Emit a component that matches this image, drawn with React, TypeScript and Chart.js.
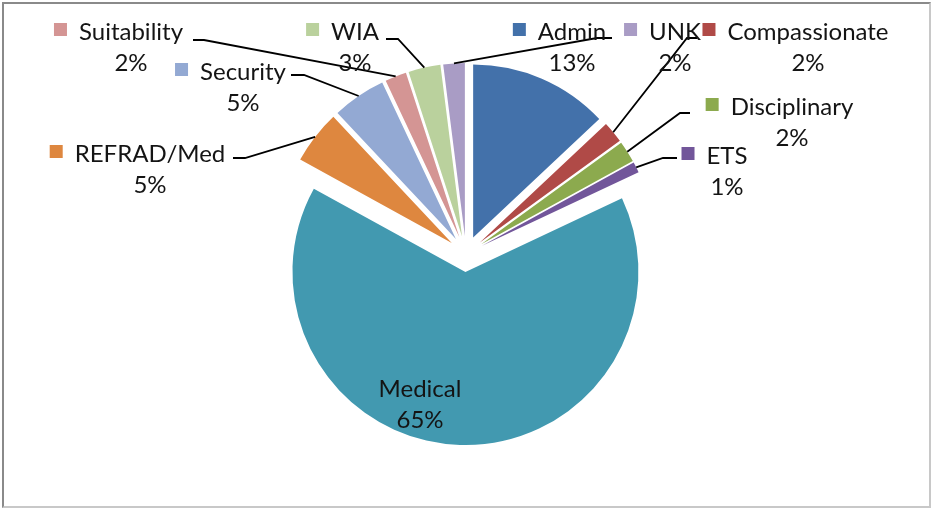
import React, { useEffect, useRef } from "react";
import { Chart, registerables } from "chart.js";

Chart.register(...registerables);

// ---- data ----
const CATEGORIES = ["Admin", "Compassionate", "Disciplinary", "ETS", "Medical", "REFRAD/Med", "Security", "Suitability", "WIA", "UNK"];
const SHARES = [13, 2, 2, 1, 65, 5, 5, 2, 3, 2];
const PCT_LABELS = ["13%", "2%", "2%", "1%", "65%", "5%", "5%", "2%", "3%", "2%"];

// ---- styles / layout (not data) ----
const COLORS = ["#4371AA", "#B04A47", "#8CAA4E", "#72569A", "#4299B0", "#DE873F", "#93A9D3", "#D49594", "#BAD19D", "#A99CC5"];
const EXPLODE = 18;
const RADIUS = 173;
const FONT = "24px Lato";
const LINE_GAP = 31;
type LabelLayout = { cx: number; y: number; key: boolean; elbow?: [number, number]; end?: number };
const LABEL_LAYOUT: LabelLayout[] = [
  { cx: 572, y: 31, key: true },
  { cx: 808, y: 31, key: true, elbow: [687, 38], end: 697 },
  { cx: 792, y: 106, key: true, elbow: [680, 113], end: 690 },
  { cx: 727, y: 155, key: true, elbow: [663, 158], end: 677 },
  { cx: 420, y: 388, key: false },
  { cx: 150, y: 153, key: true, elbow: [245, 158], end: 233 },
  { cx: 243, y: 71, key: true, elbow: [304, 75], end: 291 },
  { cx: 131, y: 31, key: true, elbow: [204, 40], end: 193 },
  { cx: 355, y: 31, key: true, elbow: [398, 39], end: 386 },
  { cx: 675, y: 31, key: true, elbow: [597, 38], end: 612 },
];

const explodePlugin = {
  id: "explodeLabels",
  beforeDatasetsDraw(chart: any) {
    const meta = chart.getDatasetMeta(0);
    const ca = chart.chartArea;
    const cx = (ca.left + ca.right) / 2;
    const cy = (ca.top + ca.bottom) / 2;
    meta.data.forEach((arc: any) => {
      const mid = (arc.startAngle + arc.endAngle) / 2;
      arc.x = cx + Math.cos(mid) * EXPLODE;
      arc.y = cy + Math.sin(mid) * EXPLODE;
    });
  },
  afterDatasetsDraw(chart: any) {
    const ctx: CanvasRenderingContext2D = chart.ctx;
    const meta = chart.getDatasetMeta(0);
    ctx.save();
    // leader lines
    ctx.strokeStyle = "#000";
    ctx.lineWidth = 1.8;
    meta.data.forEach((arc: any, i: number) => {
      const lay = LABEL_LAYOUT[i];
      if (!lay.elbow) return;
      const mid = (arc.startAngle + arc.endAngle) / 2;
      const px = arc.x + Math.cos(mid) * arc.outerRadius;
      const py = arc.y + Math.sin(mid) * arc.outerRadius;
      ctx.beginPath();
      ctx.moveTo(px, py);
      ctx.lineTo(lay.elbow[0], lay.elbow[1]);
      ctx.lineTo(lay.end as number, lay.elbow[1]);
      ctx.stroke();
    });
    // labels
    ctx.font = FONT;
    ctx.textBaseline = "middle";
    ctx.textAlign = "center";
    meta.data.forEach((arc: any, i: number) => {
      const lay = LABEL_LAYOUT[i];
      const name = CATEGORIES[i];
      const w = ctx.measureText(name).width;
      ctx.fillStyle = "#141414";
      ctx.fillText(name, lay.cx, lay.y + 1);
      ctx.fillText(PCT_LABELS[i], lay.cx, lay.y + LINE_GAP + 1);
      if (lay.key) {
        const left = lay.cx - w / 2 - 12 - 13;
        ctx.fillStyle = COLORS[i];
        ctx.fillRect(left, lay.y - 8, 13, 13);
      }
    });
    ctx.restore();
  },
};

export default function App() {
  const ref = useRef<HTMLCanvasElement>(null);
  useEffect(() => {
    if (!ref.current) return;
    const chart = new Chart(ref.current, {
      type: "pie",
      data: {
        labels: CATEGORIES,
        datasets: [
          {
            data: SHARES,
            backgroundColor: COLORS,
            borderWidth: 0,
            radius: RADIUS,
          } as any,
        ],
      },
      options: {
        animation: false,
        responsive: false,
        devicePixelRatio: 1,
        radius: RADIUS,
        layout: { padding: { left: 1, right: 0, top: 0, bottom: 0 } },
        plugins: { legend: { display: false }, tooltip: { enabled: false } },
        events: [],
      } as any,
      plugins: [explodePlugin],
    });
    return () => chart.destroy();
  }, []);
  return (
    <div style={{ position: "fixed", left: 0, top: 0, width: 931, height: 508, background: "#fff" }}>
      <canvas ref={ref} width={931} height={508} style={{ position: "absolute", left: 0, top: 0, width: 931, height: 508 }} />
      <div
        style={{
          position: "absolute",
          left: 2,
          top: 2,
          width: 929,
          height: 506,
          boxSizing: "border-box",
          borderLeft: "2px solid #8a8a8a",
          borderTop: "2px solid #8a8a8a",
          borderRight: "2px solid #c8c8c8",
          borderBottom: "2px solid #c8c8c8",
          pointerEvents: "none",
        }}
      />
    </div>
  );
}
